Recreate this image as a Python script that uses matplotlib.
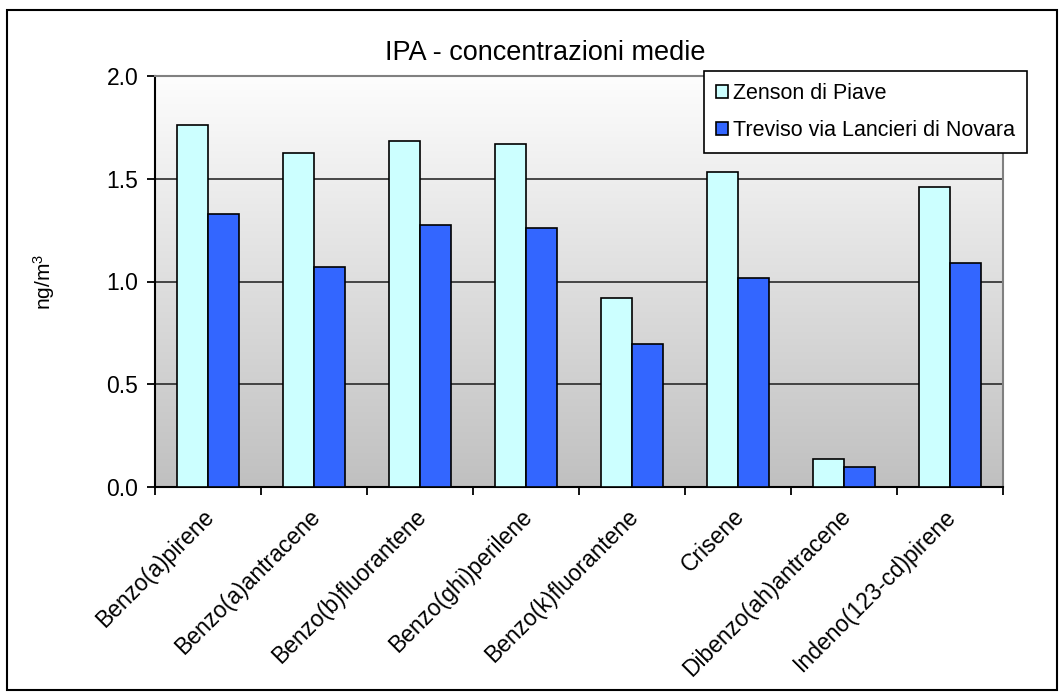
import numpy as np
import matplotlib
matplotlib.use('Agg')
import matplotlib.pyplot as plt
from matplotlib.patches import Rectangle

plt.rcParams['font.family'] = ['Liberation Sans', 'DejaVu Sans']
plt.rcParams['mathtext.default'] = 'regular'

categorie = ['Benzo(a)pirene', 'Benzo(a)antracene', 'Benzo(b)fluorantene', 'Benzo(ghi)perilene',
             'Benzo(k)fluorantene', 'Crisene', 'Dibenzo(ah)antracene', 'Indeno(123-cd)pirene']
zenson = [1.76, 1.625, 1.685, 1.67, 0.918, 1.533, 0.135, 1.461]
treviso = [1.33, 1.072, 1.277, 1.262, 0.697, 1.019, 0.099, 1.089]
serie = ['Zenson di Piave', 'Treviso via Lancieri di Novara']
colori = ['#CCFFFF', '#3366FF']

fig = plt.figure(figsize=(10.64, 6.97), dpi=100)
ax = fig.add_axes([155/1064, 1-487/697, 848/1064, 411/697])

## sfondo sfumato
grad = np.linspace(0, 1, 256).reshape(-1, 1)
ax.imshow(grad, extent=[0, 1, 0, 1], transform=ax.transAxes, aspect='auto',
          cmap=matplotlib.colors.LinearSegmentedColormap.from_list('g', ['#c0c0c0', '#fdfdfd']),
          origin='lower', zorder=0)

x = np.arange(len(categorie))
w = 0.29
ax.bar(x - w/2, zenson, w, color=colori[0], edgecolor='black', linewidth=1.2, label=serie[0], zorder=3)
ax.bar(x + w/2, treviso, w, color=colori[1], edgecolor='black', linewidth=1.2, label=serie[1], zorder=3)

ax.set_xlim(-0.5, len(categorie) - 0.5)
ax.set_ylim(0, 2.0)
ax.set_yticks([0, 0.5, 1.0, 1.5, 2.0])
ax.set_yticklabels(['0.0', '0.5', '1.0', '1.5', '2.0'])
for yv in [0.5, 1.0, 1.5]:
    ax.axhline(yv, color='#2a2a2a', linewidth=1.2, zorder=1)

ax.set_xticks(np.arange(-0.5, len(categorie)), minor=False)
ax.set_xticklabels([])
ax.set_xticks(x - 0.05, minor=True)
ax.set_xticklabels(categorie, minor=True, rotation=45, ha='right', va='top',
                   rotation_mode='anchor', fontsize=16.5)
ax.tick_params(axis='x', which='minor', length=0, pad=13)
ax.tick_params(axis='x', which='major', direction='out', length=6, width=1.3)
ax.tick_params(axis='y', direction='out', length=6, width=1.3, labelsize=16.5, pad=6)

ax.spines['left'].set_linewidth(1.5)
ax.spines['bottom'].set_linewidth(1.5)
ax.spines['top'].set_color('#808080')
ax.spines['right'].set_color('#808080')
ax.spines['top'].set_linewidth(1.5)
ax.spines['right'].set_linewidth(1.5)

ax.set_ylabel('ng/m$^3$', fontsize=15)
ax.yaxis.set_label_coords(-0.1156, 0.5)
fig.text(545/1064, 1-53/697, 'IPA - concentrazioni medie', ha='center', va='center', fontsize=19.5)

leg = ax.legend(loc='upper left', bbox_to_anchor=(704/1064, 1-71/697), bbox_transform=fig.transFigure,
                fontsize=15.5, frameon=True, fancybox=False, edgecolor='black', framealpha=1,
                handlelength=0.55, handleheight=0.55, handletextpad=0.25, labelspacing=0.75,
                borderpad=0.55, borderaxespad=0)
leg.get_frame().set_linewidth(1.2)
leg.set_zorder(5)

## cornice esterna
fig.patches.append(Rectangle((7/1064, 1-690/697), 1050/1064, 680/697, transform=fig.transFigure,
                             fill=False, edgecolor='black', linewidth=1.5))

plt.savefig('out.png', dpi=100)
